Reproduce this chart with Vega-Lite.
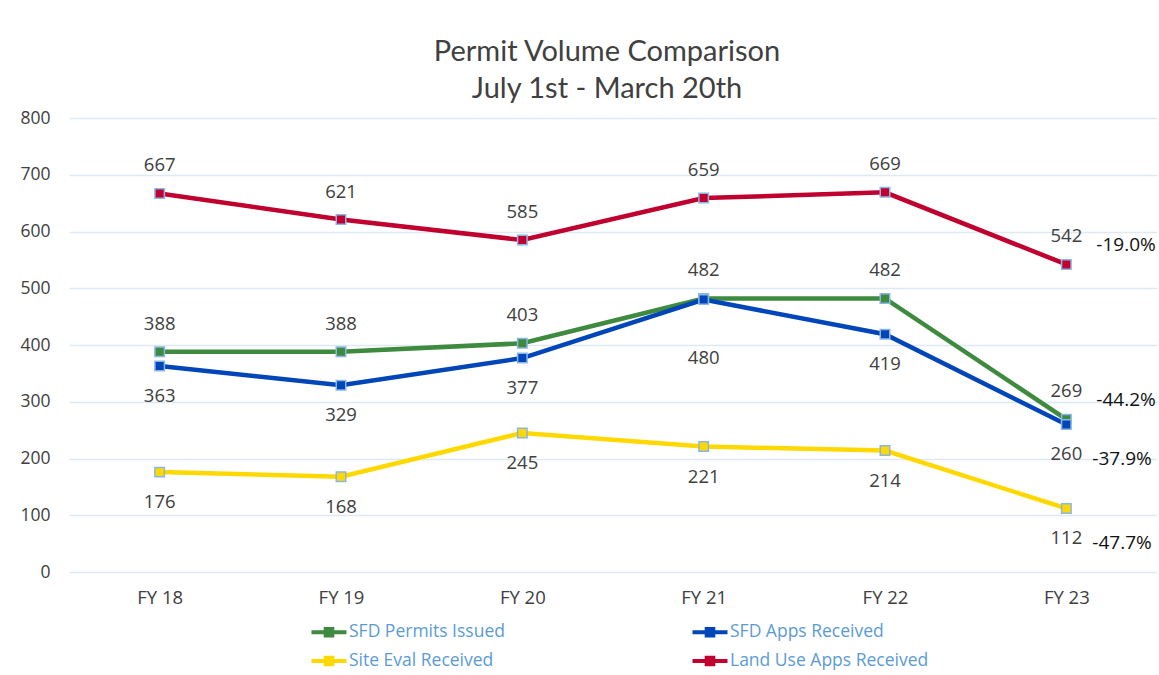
{
  "$schema": "https://vega.github.io/schema/vega-lite/v6.json",
  "autosize": {"type": "none"},
  "padding": {"left": 69, "top": 118, "right": 2, "bottom": 103},
  "width": 1088,
  "height": 454,
  "background": "white",
  "title": {
    "text": ["Permit Volume Comparison", "July 1st - March 20th"],
    "font": "Lato",
    "fontSize": 29,
    "fontWeight": "normal",
    "color": "#404040",
    "lineHeight": 37,
    "anchor": "middle",
    "dx": -6,
    "offset": 5
  },
  "config": {
    "view": {"stroke": null},
    "font": "Open Sans"
  },
  "data": {
    "values": [
      {"fy": "FY 18", "series": "SFD  Permits Issued", "value": 388},
      {"fy": "FY 19", "series": "SFD  Permits Issued", "value": 388},
      {"fy": "FY 20", "series": "SFD  Permits Issued", "value": 403},
      {"fy": "FY 21", "series": "SFD  Permits Issued", "value": 482},
      {"fy": "FY 22", "series": "SFD  Permits Issued", "value": 482},
      {"fy": "FY 23", "series": "SFD  Permits Issued", "value": 269, "change": "-44.2%"},
      {"fy": "FY 18", "series": "SFD Apps Received", "value": 363},
      {"fy": "FY 19", "series": "SFD Apps Received", "value": 329},
      {"fy": "FY 20", "series": "SFD Apps Received", "value": 377},
      {"fy": "FY 21", "series": "SFD Apps Received", "value": 480},
      {"fy": "FY 22", "series": "SFD Apps Received", "value": 419},
      {"fy": "FY 23", "series": "SFD Apps Received", "value": 260, "change": "-37.9%"},
      {"fy": "FY 18", "series": "Site Eval Received", "value": 176},
      {"fy": "FY 19", "series": "Site Eval Received", "value": 168},
      {"fy": "FY 20", "series": "Site Eval Received", "value": 245},
      {"fy": "FY 21", "series": "Site Eval Received", "value": 221},
      {"fy": "FY 22", "series": "Site Eval Received", "value": 214},
      {"fy": "FY 23", "series": "Site Eval Received", "value": 112, "change": "-47.7%"},
      {"fy": "FY 18", "series": "Land Use Apps Received", "value": 667},
      {"fy": "FY 19", "series": "Land Use Apps Received", "value": 621},
      {"fy": "FY 20", "series": "Land Use Apps Received", "value": 585},
      {"fy": "FY 21", "series": "Land Use Apps Received", "value": 659},
      {"fy": "FY 22", "series": "Land Use Apps Received", "value": 669},
      {"fy": "FY 23", "series": "Land Use Apps Received", "value": 542, "change": "-19.0%"}
    ]
  },
  "encoding": {
    "x": {
      "field": "fy",
      "type": "ordinal",
      "sort": null,
      "scale": {"type": "point", "padding": 0.5},
      "axis": {
        "title": null,
        "labelAngle": 0,
        "domain": false,
        "ticks": false,
        "labelFontSize": 18.5,
        "labelColor": "#404040",
        "labelPadding": 16,
        "grid": false
      }
    },
    "y": {
      "field": "value",
      "type": "quantitative",
      "scale": {"domain": [0, 800], "nice": false},
      "axis": {
        "title": null,
        "values": [0, 100, 200, 300, 400, 500, 600, 700, 800],
        "domain": false,
        "ticks": false,
        "labelFontSize": 17.5,
        "labelColor": "#404040",
        "labelPadding": 19,
        "gridColor": "#DDE9F7",
        "gridWidth": 1.5
      }
    }
  },
  "layer": [
    {
      "mark": {"type": "line", "strokeWidth": 4.5},
      "encoding": {
        "color": {
          "field": "series",
          "type": "nominal",
          "scale": {
            "domain": ["SFD  Permits Issued", "SFD Apps Received", "Site Eval Received", "Land Use Apps Received"],
            "range": ["#3E8A3E", "#0046B8", "#FFD800", "#C0002E"]
          },
          "legend": {
            "title": null,
            "orient": "none",
            "legendX": 246,
            "legendY": 500,
            "direction": "horizontal",
            "columns": 2,
            "columnPadding": 182,
            "rowPadding": 6,
            "symbolType": "M-1.25,-0.15H1.25V0.15H-1.25Z M-0.38,-0.38H0.38V0.38H-0.38Z",
            "symbolSize": 784,
            "symbolStrokeWidth": 0,
            "symbolOpacity": 1,
            "labelOffset": 6,
            "labelLimit": 400,
            "labelFontSize": 17.5,
            "labelColor": "#5B9BD5",
            "labelFont": "Open Sans"
          }
        }
      }
    },
    {
      "mark": {"type": "point", "shape": "square", "size": 90, "filled": true, "opacity": 1, "stroke": "#8AB6E6", "strokeWidth": 1.5},
      "encoding": {
        "color": {"field": "series", "type": "nominal", "legend": null}
      }
    },
    {
      "transform": [{"filter": "datum.series === 'SFD  Permits Issued' || datum.series === 'Land Use Apps Received'"}],
      "mark": {"type": "text", "dy": -28, "fontSize": 18.5, "color": "#404040", "baseline": "middle"},
      "encoding": {"text": {"field": "value", "type": "quantitative"}}
    },
    {
      "transform": [{"filter": "(datum.series === 'SFD Apps Received' && datum.fy !== 'FY 21') || datum.series === 'Site Eval Received'"}],
      "mark": {"type": "text", "dy": 30, "fontSize": 18.5, "color": "#404040", "baseline": "middle"},
      "encoding": {"text": {"field": "value", "type": "quantitative"}}
    },
    {
      "transform": [{"filter": "datum.series === 'SFD Apps Received' && datum.fy === 'FY 21'"}],
      "mark": {"type": "text", "dy": 58, "fontSize": 18.5, "color": "#404040", "baseline": "middle"},
      "encoding": {"text": {"field": "value", "type": "quantitative"}}
    },
    {
      "transform": [{"filter": "datum.change != null && (datum.series === 'SFD  Permits Issued' || datum.series === 'Land Use Apps Received')"}],
      "mark": {"type": "text", "dx": 30, "dy": -19, "align": "left", "fontSize": 19, "color": "#111111", "baseline": "middle"},
      "encoding": {"text": {"field": "change", "type": "nominal"}}
    },
    {
      "transform": [{"filter": "datum.change != null && (datum.series === 'SFD Apps Received' || datum.series === 'Site Eval Received')"}],
      "mark": {"type": "text", "dx": 26, "dy": 35, "align": "left", "fontSize": 19, "color": "#111111", "baseline": "middle"},
      "encoding": {"text": {"field": "change", "type": "nominal"}}
    }
  ]
}
